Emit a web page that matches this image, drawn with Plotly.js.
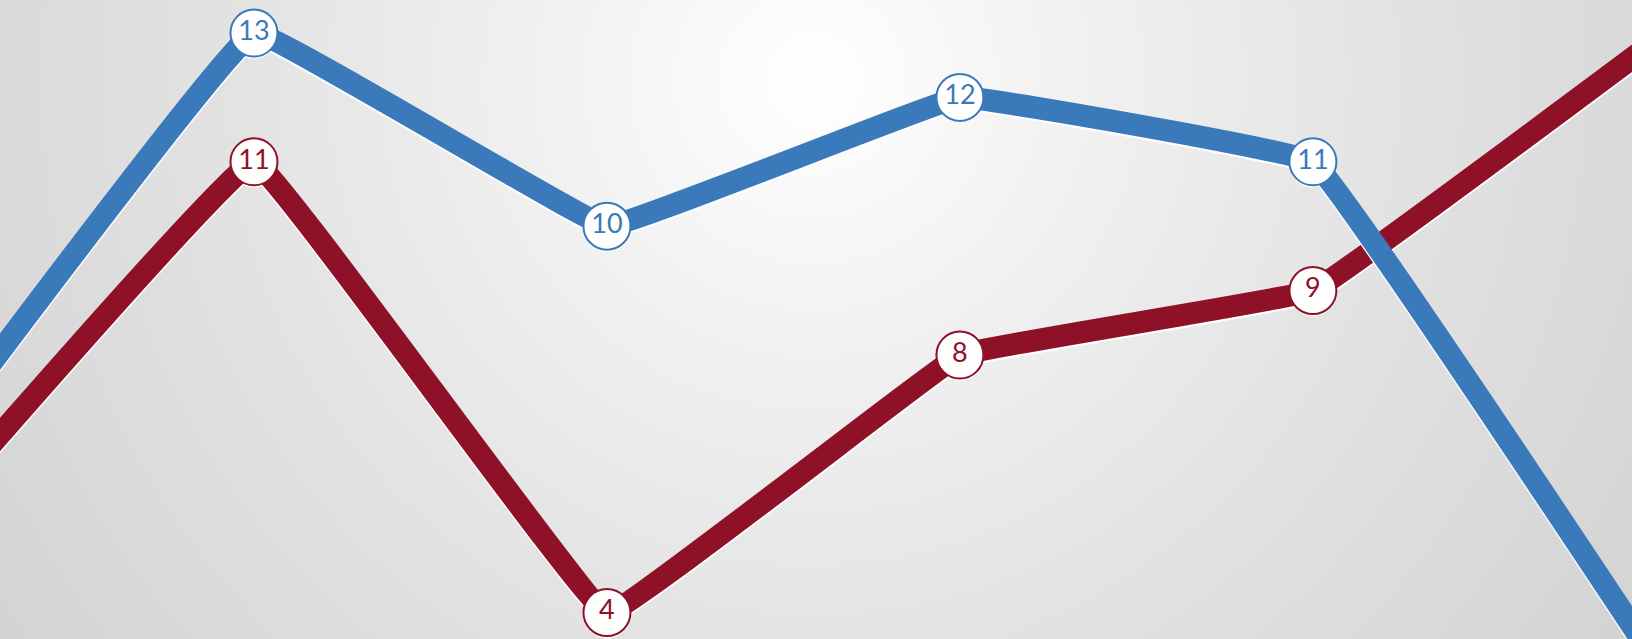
<!DOCTYPE html>
<html>
<head>
<meta charset="utf-8">
<script src="https://cdn.plot.ly/plotly-3.0.1.min.js"></script>
<style>
  html, body { margin: 0; padding: 0; width: 1632px; height: 639px; overflow: hidden; }
  body { background: radial-gradient(circle farthest-corner at 813px 80px, #ffffff 0%, #f2f2f2 25%, #e2e2e2 60%, #d3d3d3 100%); }
  #chart { width: 1632px; height: 639px; }
</style>
</head>
<body>
<div id="chart"></div>
<script>
// Category positions (first and last lie just outside the visible area)
const categories = [1, 2, 3, 4, 5, 6];
// Series values
const blueValues = [6, 13, 10, 12, 11, 3];
const redValues  = [5, 11, 4, 8, 9, 13];
// Which points carry a visible data label (edge points fall outside the frame)
const labelShown = [false, true, true, true, true, false];

const BLUE = '#3a79ba';
const RED = '#8e1128';
const LINE_W = 22;
const SMOOTH = 0.15;

const yRange = [3.59, 13.512];
const xRange = [1.2805, 5.904];
const shadowShift = 0.035; // ~2px downward shadow

const shadowRange = [yRange[0] + shadowShift, yRange[1] + shadowShift];

function lineTrace(vals, color, yaxis) {
  return {
    x: categories, y: vals, yaxis: yaxis,
    type: 'scatter', mode: 'lines+markers',
    line: { color: color, width: LINE_W, shape: 'spline', smoothing: SMOOTH },
    marker: { size: 47, color: color },
    cliponaxis: true,
    hoverinfo: 'skip', showlegend: false
  };
}
function mainTrace(vals, color, yaxis) {
  return {
    x: categories, y: vals, yaxis: yaxis,
    type: 'scatter', mode: 'lines+markers+text',
    text: vals.map((v, i) => labelShown[i] ? String(v) : ''),
    textposition: 'middle center',
    textfont: { family: 'Lato, "Liberation Sans", sans-serif', size: 27, color: color },
    line: { color: color, width: LINE_W, shape: 'spline', smoothing: SMOOTH },
    marker: { size: 47, color: '#ffffff', line: { color: color, width: 2 } },
    cliponaxis: true,
    hoverinfo: 'skip', showlegend: false
  };
}

const data = [
  lineTrace(redValues, '#ffffff', 'y'),
  mainTrace(redValues, RED, 'y2'),
  lineTrace(blueValues, '#ffffff', 'y3'),
  mainTrace(blueValues, BLUE, 'y4')
];

const hiddenY = (range, extra) => Object.assign({
  range: range, visible: false, showgrid: false, zeroline: false, fixedrange: true
}, extra || {});

const layout = {
  width: 1632, height: 639,
  margin: { l: 0, r: 0, t: 0, b: 0, pad: 0 },
  paper_bgcolor: 'rgba(0,0,0,0)',
  plot_bgcolor: 'rgba(0,0,0,0)',
  showlegend: false,
  xaxis: { range: xRange, visible: false, showgrid: false, zeroline: false, fixedrange: true },
  yaxis: hiddenY(shadowRange),
  yaxis2: hiddenY(yRange, { overlaying: 'y' }),
  yaxis3: hiddenY(shadowRange, { overlaying: 'y' }),
  yaxis4: hiddenY(yRange, { overlaying: 'y' })
};

Plotly.newPlot('chart', data, layout, { staticPlot: true, displayModeBar: false });
</script>
</body>
</html>
